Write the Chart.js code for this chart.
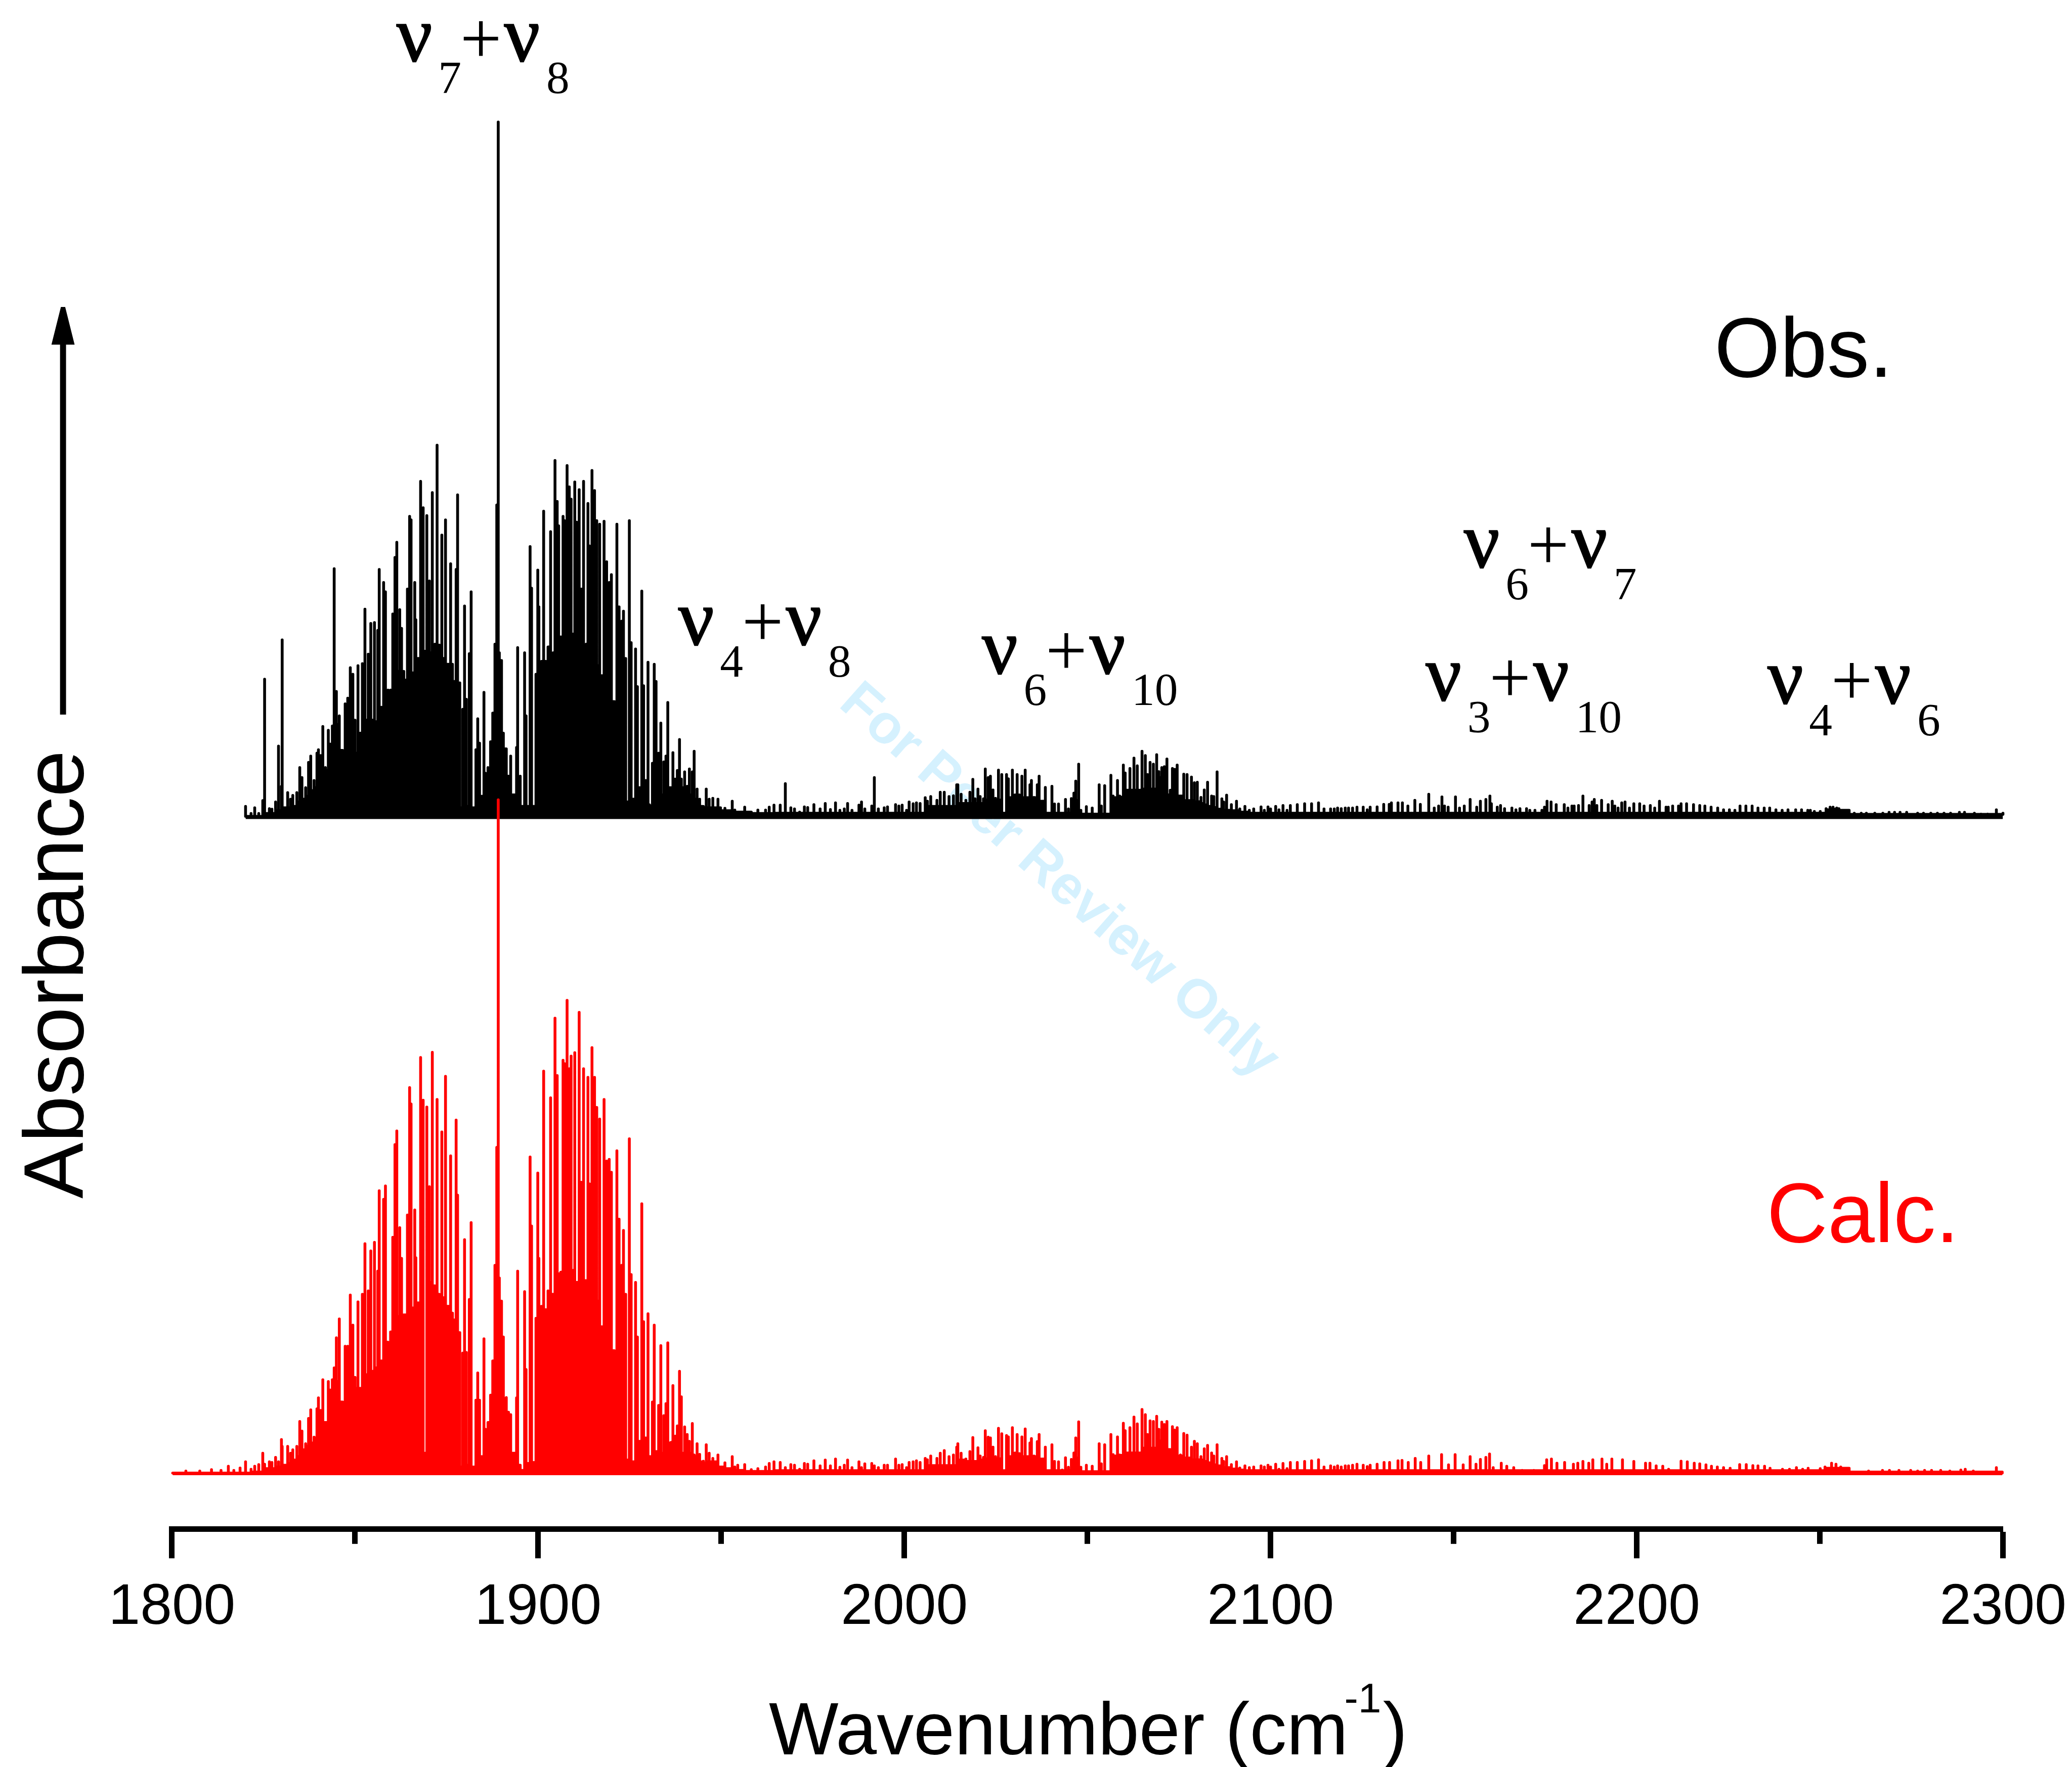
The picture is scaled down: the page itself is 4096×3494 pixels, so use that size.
<!DOCTYPE html>
<html>
<head>
<meta charset="utf-8">
<title>Absorbance spectrum</title>
<script src="https://cdn.jsdelivr.net/npm/chart.js@4"></script>
<style>
    html, body { margin: 0; padding: 0; background: #fff; }
    canvas { display: block; }
</style>
</head>
<body>
<canvas id="grafico" width="4096" height="3494"></canvas>
<script>
// red trace only, runs from the axis start up to where the black trace begins
const leadWn = [1800.2, 1803.8, 1807.6, 1810.8, 1813.4, 1815.4, 1816.9, 1818.6];
const leadCalc = [6, 12, 12, 16, 14, 26, 14, 21];
const leadCalcFloor = [6, 6, 6, 6, 6, 6, 6, 6];

// sticks shared by both traces, 1820 - 2127 cm-1
const wavenumbers = [
    1820.1,1821.6,1822.6,1823.7,1824.8,1825.3,1826.6,1827.3,1828.3,1829.1,
    1829.9,1830.1,1831.6,1832.4,1833.0,1834.1,1834.9,1835.5,1836.5,1837.3,
    1837.9,1838.8,1839.6,1840.0,1840.6,1841.2,1841.9,1842.7,1843.2,1843.8,
    1844.3,1844.9,1845.7,1846.6,1847.3,1848.0,1848.7,1849.4,1850.0,1850.8,
    1851.4,1852.0,1852.7,1853.6,1854.3,1855.3,1856.2,1856.6,1857.2,1857.8,
    1858.3,1859.0,1859.7,1860.3,1860.9,1861.4,1862.2,1862.7,1863.3,1864.3,
    1864.9,1865.3,1866.3,1866.6,1867.2,1867.9,1868.6,1869.6,1870.3,1871.1,
    1871.8,1872.4,1873.0,1873.7,1874.7,1875.4,1876.1,1876.6,1877.6,1878.0,
    1878.6,1879.4,1879.9,1880.4,1881.2,1881.7,1883.0,1883.5,1884.0,1885.2,
    1885.6,1886.3,1887.0,1887.6,1888.2,1888.7,1889.1,1889.4,1890.0,1890.5,
    1891.3,1891.9,1892.5,1893.6,1894.1,1894.4,1895.1,1896.3,1896.7,1897.2,
    1897.8,1898.2,1898.8,1899.4,1899.9,1900.2,1900.9,1901.5,1902.1,1902.7,
    1903.4,1904.1,1904.6,1905.2,1905.6,1906.2,1906.8,1907.2,1907.9,1908.5,
    1909.0,1909.6,1910.0,1910.5,1911.2,1911.8,1912.4,1913.1,1913.6,1914.0,
    1914.7,1915.4,1916.0,1916.5,1916.8,1917.4,1918.0,1918.7,1919.4,1920.0,
    1920.8,1921.5,1922.1,1922.8,1923.3,1923.9,1924.9,1925.4,1926.6,1927.1,
    1928.3,1928.8,1929.4,1930.0,1930.4,1931.2,1931.7,1932.2,1932.9,1933.5,
    1934.3,1934.9,1935.4,1936.3,1936.8,1937.4,1938.0,1938.6,1939.1,1940.0,
    1940.7,1941.3,1942.1,1942.6,1943.4,1944.1,1945.1,1945.9,1946.7,1947.7,
    1949.1,1949.8,1951.0,1953.0,1953.7,1954.5,1956.4,1958.2,1960.0,1962.1,
    1963.1,1964.4,1966.1,1967.5,1969.0,1970.0,1971.4,1972.7,1973.6,1975.3,
    1977.0,1978.4,1979.8,1981.2,1982.4,1983.6,1984.5,1985.7,1987.6,1988.3,
    1989.2,1991.1,1991.8,1992.9,1994.5,1995.4,1997.6,1998.5,1999.4,2000.6,
    2001.3,2002.4,2003.3,2004.3,2005.7,2006.3,2007.2,2008.9,2009.8,2010.9,
    2012.2,2013.4,2014.3,2014.6,2015.5,2016.8,2017.9,2018.7,2019.3,2020.1,
    2020.7,2021.6,2022.1,2022.9,2023.5,2024.2,2024.9,2025.7,2026.6,2027.1,
    2027.9,2028.4,2029.5,2030.2,2030.8,2031.4,2032.1,2033.0,2034.3,2034.7,
    2035.4,2036.3,2036.8,2037.9,2038.5,2039.5,2040.3,2041.0,2042.1,2043.1,
    2044.0,2044.8,2045.6,2046.3,2046.8,2047.6,2048.2,2049.7,2050.6,2051.3,
    2052.1,2053.2,2053.8,2054.7,2055.8,2056.4,2057.0,2058.2,2058.8,2059.8,
    2060.3,2061.6,2062.7,2063.6,2064.9,2065.8,2066.4,2067.1,2068.0,2068.9,
    2069.5,2070.3,2071.0,2071.7,2072.6,2073.2,2073.8,2074.5,2075.4,2076.3,
    2077.2,2078.4,2079.2,2080.0,2081.0,2081.9,2082.8,2083.9,2084.5,2085.4,
    2086.7,2087.2,2088.0,2089.3,2090.7,2091.6,2093.0,2094.2,2095.4,2097.4,
    2098.3,2099.3,2100.0,2101.4,2102.3,2103.4,2104.5,2105.4,2107.3,2109.3,
    2111.2,2113.1,2114.6,2116.4,2117.4,2118.3,2119.3,2120.4,2121.3,2122.4,
    2123.6,2125.3,2126.4,2127.2
];
const obsPeak = [
    40,15,35,15,60,483,32,30,55,250,
    110,620,88,65,78,88,175,140,105,193,
    215,130,225,237,217,318,175,305,257,320,
    868,440,355,225,397,417,523,500,340,530,
    295,537,727,570,677,680,653,865,385,820,
    787,445,445,710,907,960,725,660,510,797,
    1050,1038,820,690,555,1172,1080,1053,825,1133,
    605,1298,602,985,1038,535,885,535,865,1125,
    470,378,738,413,572,787,237,345,260,437,
    155,175,265,365,605,1090,2424,575,548,295,
    238,140,215,80,245,593,145,575,355,38,
    945,800,38,500,863,735,545,1068,40,595,
    997,575,1245,1102,1017,630,1050,1035,1227,1153,
    1110,640,1170,1030,1143,797,1172,605,1095,947,
    1210,1140,1035,525,1023,495,1033,892,820,847,
    405,1023,735,685,720,555,1035,610,588,457,
    790,460,130,542,45,190,535,475,225,330,
    195,215,402,105,227,135,165,273,135,160,
    110,170,160,232,100,65,40,100,65,68,
    65,35,33,58,27,20,37,20,27,27,
    37,44,44,119,35,31,20,38,36,46,
    31,50,29,52,26,31,50,26,44,55,
    31,41,140,31,35,38,46,41,44,26,
    55,49,52,50,70,58,74,61,89,89,
    74,77,115,115,82,61,89,134,66,100,
    74,66,170,140,145,97,68,166,151,16,
    151,136,166,80,151,80,145,166,115,130,
    71,115,145,58,106,16,110,48,48,16,
    64,31,67,86,128,187,26,39,13,34,
    13,115,41,112,13,148,76,130,76,184,
    156,172,208,181,232,217,151,193,187,220,
    161,175,178,205,96,172,169,184,76,152,
    151,142,122,124,71,97,124,76,74,160,
    66,55,79,46,58,31,40,26,31,38,
    26,38,31,40,28,43,26,43,46,49,
    49,52,31,31,31,34,32,34,34,34,
    37,37,28,37
];
const obsFloor = [
    5,5,5,5,5,15,15,15,25,25,
    35,35,35,40,40,55,65,65,75,95,
    95,105,115,120,155,160,165,205,255,305,
    305,325,235,220,225,225,225,225,225,225,
    295,335,340,340,340,335,330,375,375,395,
    415,425,430,505,505,510,510,505,480,485,
    505,505,555,555,555,580,580,580,575,575,
    575,575,555,555,535,535,475,475,465,465,
    35,40,40,40,40,35,35,40,75,125,
    125,165,265,365,555,605,575,545,295,240,
    145,85,80,75,75,40,40,355,40,40,
    800,40,40,465,735,40,545,545,40,595,
    540,540,575,625,630,630,635,165,640,640,
    640,585,585,585,605,605,600,605,520,520,
    525,530,530,495,470,470,470,470,405,405,
    155,155,150,105,75,55,55,65,65,105,
    55,55,40,40,40,85,85,85,80,80,
    85,105,105,75,95,105,110,105,105,80,
    80,80,75,65,55,40,35,35,35,35,
    35,25,25,20,20,20,20,15,15,15,
    15,16,16,16,16,16,16,16,16,16,
    16,16,16,16,16,16,16,16,16,16,
    16,16,16,16,16,16,16,16,16,16,
    16,16,16,16,40,40,40,40,40,40,
    40,40,50,50,50,50,50,50,50,50,
    50,50,62,62,62,62,62,62,16,16,
    70,70,70,70,70,70,70,70,70,70,
    70,70,58,58,16,16,16,16,16,16,
    16,16,16,50,60,16,13,13,13,13,
    13,13,13,13,13,70,70,72,72,96,
    96,96,96,96,100,100,100,100,100,140,
    140,140,80,80,80,76,76,76,76,60,
    60,60,56,56,50,45,40,36,36,30,
    26,26,26,25,25,20,20,16,16,16,
    16,16,16,16,16,16,16,16,16,16,
    16,16,16,16,16,16,16,16,16,16,
    16,16,16,16
];
const calcPeak = [
    39,17,26,31,64,32,39,37,52,39,
    104,84,84,64,74,84,157,129,92,166,
    191,111,194,226,189,279,154,274,249,279,
    314,402,457,204,377,377,527,439,286,507,
    254,529,677,539,656,681,597,832,334,807,
    846,389,419,696,967,1007,724,634,464,761,
    1134,1086,776,636,504,1222,1097,1077,844,1237,
    529,1099,524,1004,1167,494,934,474,1039,819,
    417,357,689,359,514,739,219,299,219,399,
    134,114,234,334,614,959,1976,577,509,274,
    227,184,177,64,226,597,29,537,309,34,
    931,729,37,459,884,634,494,1182,484,539,
    1104,524,1337,1169,584,594,1214,1204,1389,1189,
    1226,599,1236,564,1354,857,1189,569,1164,852,
    1251,1164,1076,509,1042,434,1099,919,924,886,
    364,949,749,614,716,529,984,587,564,404,
    794,449,109,472,44,214,439,64,204,379,
    174,209,387,96,262,114,144,304,229,141,
    119,99,151,59,92,61,41,89,64,49,
    59,24,36,54,24,29,31,16,19,24,
    34,39,37,22,31,29,17,34,32,42,
    27,44,27,47,23,29,44,22,39,22,
    33,34,27,22,29,29,47,29,31,22,
    37,39,42,37,49,45,56,49,64,72,
    54,59,82,92,64,47,69,110,40,80,
    56,52,130,111,109,82,54,137,121,13,
    116,112,139,65,119,63,112,135,94,107,
    56,98,119,47,82,13,89,40,39,15,
    51,23,46,65,109,156,23,29,10,26,
    10,92,33,89,10,119,60,112,59,152,
    130,139,170,150,192,177,119,159,157,172,
    134,155,148,157,67,142,132,139,59,122,
    117,82,99,92,54,77,87,65,56,89,
    49,40,54,31,39,21,27,22,24,27,
    24,29,24,32,17,34,19,37,37,40,
    42,45,24,27,24,27,24,27,27,29,
    32,29,25,29
];
const calcFloor = [
    6,9,9,9,19,19,19,19,24,24,
    29,29,34,39,44,54,64,74,84,94,
    94,109,114,124,144,154,154,194,244,274,
    274,274,214,199,209,214,214,224,254,254,
    254,284,294,294,304,314,314,324,324,384,
    389,384,419,464,464,464,464,464,469,484,
    489,489,509,504,504,524,64,564,564,554,
    529,529,524,519,494,494,454,454,414,414,
    24,24,24,29,24,24,24,24,54,94,
    114,154,234,334,574,614,509,509,404,224,
    184,129,64,64,44,29,14,309,29,34,
    729,29,34,444,634,29,484,484,24,534,
    529,524,564,584,589,594,594,144,599,599,
    599,564,564,564,564,564,569,569,494,494,
    494,509,509,439,434,434,434,434,434,364,
    144,139,134,54,54,44,44,39,39,99,
    34,34,29,29,54,69,69,69,64,64,
    74,114,94,74,104,114,64,94,64,94,
    64,64,59,54,44,39,34,39,39,39,
    24,24,19,14,14,14,11,11,11,11,
    11,13,13,13,13,13,13,13,13,13,
    13,13,13,13,13,13,13,13,13,13,
    13,13,13,13,13,13,13,13,13,13,
    13,13,13,13,28,28,28,28,28,28,
    28,28,44,44,44,40,40,40,40,44,
    44,44,48,48,48,48,48,48,13,13,
    54,54,54,54,54,54,54,54,54,54,
    54,54,47,47,13,13,13,13,13,13,
    13,13,13,40,50,13,10,10,10,10,
    10,10,10,10,10,56,56,58,58,65,
    65,65,65,65,79,79,79,79,79,100,
    100,100,75,75,67,60,56,56,56,50,
    50,45,45,45,44,40,36,30,30,27,
    22,22,22,18,18,15,13,13,13,13,
    13,13,13,13,13,13,13,13,13,13,
    13,13,13,13,13,13,13,13,13,13,
    13,13,13,13
];

// high wavenumber end, the two traces were read apart here
const obsTailWn = [
    2129.1,2130.9,2132.4,2133.0,2134.8,2136.0,2137.5,2139.4,2140.9,2143.2,
    2144.7,2145.9,2146.8,2147.5,2148.5,2150.5,2151.6,2152.9,2154.5,2156.3,
    2157.3,2158.8,2159.9,2160.3,2161.9,2162.8,2163.9,2165.9,2167.0,2168.1,
    2169.9,2170.8,2172.2,2174.1,2174.8,2175.5,2176.6,2178.0,2180.2,2181.2,
    2182.3,2182.9,2184.1,2185.3,2187.0,2187.8,2188.4,2189.1,2190.4,2192.2,
    2193.3,2194.0,2194.9,2195.9,2196.8,2198.0,2199.2,2200.8,2202.0,2203.7,
    2204.9,2206.2,2208.0,2208.6,2209.8,2211.4,2212.1,2213.6,2215.5,2217.2,
    2218.6,2220.3,2222.1,2223.7,2225.3,2226.8,2228.2,2229.8,2231.5,2233.1,
    2234.8,2236.3,2238.0,2239.7,2241.3,2243.4,2245.0,2246.7,2247.4,2248.5,
    2250.1,2251.7,2252.8,2253.6,2254.6,2255.2,2258.0,2259.4,2261.3,2262.7,
    2265.0,2267.2,2268.9,2270.4,2271.9,2273.7,2276.7,2278.3,2280.3,2282.1,
    2283.9,2285.7,2288.1,2289.5,2292.2,2294.0,2295.8,2298.2,2300.0
];
const obsTailPeak = [
    38,47,47,52,52,52,41,61,47,82,
    34,41,73,41,37,73,34,41,64,37,
    58,64,76,49,37,43,32,34,28,32,
    32,26,26,26,37,58,55,46,46,34,
    41,41,43,76,43,55,64,43,61,46,
    58,41,34,52,55,34,49,49,41,43,
    34,58,37,37,41,41,49,49,46,43,
    41,37,34,28,28,26,41,41,41,34,
    34,34,28,26,28,28,28,26,26,22,
    22,32,37,37,34,32,26,16,16,16,
    16,16,19,19,19,19,16,16,16,16,
    16,16,19,19,16,13,13,28,16
];
const obsTailFloor = [
    16,16,16,16,16,16,16,16,16,16,
    16,16,16,16,16,16,16,16,16,16,
    16,16,16,16,16,16,16,16,16,16,
    16,16,16,16,16,16,16,16,16,16,
    16,16,16,16,16,16,16,16,16,16,
    16,16,16,16,16,16,16,16,16,16,
    16,16,16,16,16,16,16,16,16,16,
    16,16,16,16,16,16,16,16,16,16,
    16,16,16,16,16,16,16,16,16,16,
    16,28,30,30,30,26,12,12,12,12,
    12,12,12,12,12,12,12,12,12,12,
    12,12,12,12,12,12,12,12,12
];
const calcTailWn = [
    2129.1,2131.0,2132.5,2134.8,2135.9,2137.6,2139.5,2141.0,2143.2,2146.7,
    2148.6,2150.4,2152.6,2154.5,2156.1,2157.3,2158.8,2159.8,2160.8,2163.0,
    2164.5,2166.4,2168.7,2171.9,2174.8,2175.4,2176.7,2178.2,2180.3,2182.7,
    2183.9,2185.3,2186.9,2188.0,2190.5,2191.8,2193.2,2196.1,2199.2,2202.4,
    2203.6,2205.3,2207.1,2208.7,2212.1,2213.8,2215.7,2217.2,2218.9,2220.4,
    2222.0,2223.7,2225.5,2228.1,2229.9,2231.7,2233.1,2234.9,2236.4,2239.8,
    2241.7,2243.6,2245.3,2246.8,2250.1,2251.4,2253.2,2254.4,2255.7,2258.0,
    2263.3,2267.1,2269.0,2271.6,2274.8,2276.7,2278.6,2280.5,2283.0,2285.5,
    2288.5,2289.7,2291.9,2294.4,2296.3,2298.2,2299.8
];
const calcTailPeak = [
    32,37,37,42,43,37,49,37,56,60,
    30,60,30,54,32,46,52,62,22,35,
    26,22,14,14,28,45,47,35,37,32,
    35,40,35,45,47,32,47,45,40,35,
    35,27,26,17,41,39,35,33,30,26,
    24,22,20,31,31,28,27,26,20,17,
    17,22,17,20,19,24,35,32,24,14,
    12,14,14,14,14,12,14,14,14,12,
    15,17,12,9,9,22,6
];
const calcTailFloor = [
    13,13,13,13,13,13,13,13,13,13,
    13,13,13,13,13,13,13,13,13,13,
    13,13,13,13,13,13,13,13,13,13,
    13,13,13,13,13,13,13,13,13,13,
    13,13,13,13,13,13,13,13,13,13,
    13,13,13,13,13,13,13,13,13,13,
    13,13,13,13,13,20,20,20,20,9,
    9,9,9,9,9,9,9,9,9,9,
    9,9,9,9,9,9,6
];

const majorTicks = [1800, 1900, 2000, 2100, 2200, 2300];
const minorTicks = [1850, 1950, 2050, 2150, 2250];
const bandNames = [['7', '8'], ['4', '8'], ['6', '10'], ['6', '7'], ['3', '10'], ['4', '6']];

// everything below was measured on the 4832 wide original
const S = 4096 / 4832;
const px = (v) => v * S;
// x and baseline of the first nu of each band name
const bandPlaces = [[925, 142], [1582, 1503], [2290, 1570], [3414, 1323], [3325, 1633], [4122, 1640]];

function getSticks(wn, peak, floor) {
    let points = [];
    wn.forEach((x, i) => {
        points.push({ x: x, y: i > 0 ? floor[i - 1] : floor[0] });
        points.push({ x: x, y: peak[i] });
        points.push({ x: x, y: floor[i] });
    });
    return points;
}

function drawBandName(ctx, names, x, y) {
    ctx.fillStyle = '#000';
    ctx.strokeStyle = '#000';
    ctx.lineWidth = px(3);
    ctx.textAlign = 'left';
    ctx.textBaseline = 'alphabetic';
    ctx.font = px(184) + 'px "Liberation Serif"';
    // the nu of the original is heavier than the regular cut, not as heavy as the bold one
    [x, x + 251].forEach((nuX) => {
        ctx.fillText('ν', px(nuX), px(y));
        ctx.strokeText('ν', px(nuX), px(y));
    });
    ctx.font = px(172) + 'px "Liberation Serif"';
    ctx.fillText('+', px(x + 148), px(y + 5));
    ctx.font = px(108) + 'px "Liberation Serif"';
    ctx.fillText(names[0], px(x + 97), px(y + 75));
    ctx.fillText(names[1], px(x + 349), px(y + 75));
}

const decorations = {
    id: 'decorations',
    beforeDatasetsDraw(chart) {
        const ctx = chart.ctx;
        ctx.save();
        ctx.translate(px(2469), px(2056));
        ctx.rotate(41.5 * Math.PI / 180);
        ctx.fillStyle = '#d5f1fe';
        ctx.font = 'bold ' + px(128) + 'px "Liberation Sans"';
        ctx.textAlign = 'center';
        ctx.textBaseline = 'middle';
        ctx.fillText('For Peer Review Only', 0, 0);
        ctx.restore();
    },
    afterDraw(chart) {
        const ctx = chart.ctx;
        ctx.save();

        bandNames.forEach((names, i) => {
            drawBandName(ctx, names, bandPlaces[i][0], bandPlaces[i][1]);
        });

        ctx.textAlign = 'left';
        ctx.textBaseline = 'alphabetic';
        ctx.font = px(197) + 'px "Liberation Sans"';
        ctx.fillStyle = '#000';
        ctx.fillText('Obs.', px(3998), px(879));
        ctx.fillStyle = '#f00';
        ctx.fillText('Calc.', px(4120), px(2897));

        ctx.fillStyle = '#000';
        ctx.font = px(172) + 'px "Liberation Sans"';
        ctx.fillText('Wavenumber (cm', px(1793), px(4092));
        ctx.fillText(')', px(3225), px(4092));
        ctx.font = px(97) + 'px "Liberation Sans"';
        ctx.fillText('-1', px(3135), px(3994));

        ctx.save();
        ctx.translate(px(193), px(2796));
        ctx.rotate(-Math.PI / 2);
        ctx.font = px(196) + 'px "Liberation Sans"';
        ctx.fillText('Absorbance', 0, 0);
        ctx.restore();

        // arrow next to the y title
        ctx.beginPath();
        ctx.moveTo(px(140), px(1667));
        ctx.lineTo(px(154), px(1667));
        ctx.lineTo(px(154), px(804));
        ctx.lineTo(px(174), px(804));
        ctx.lineTo(px(152), px(716));
        ctx.lineTo(px(142), px(716));
        ctx.lineTo(px(120), px(804));
        ctx.lineTo(px(140), px(804));
        ctx.closePath();
        ctx.fill();

        ctx.restore();
    }
};

const traceStyle = {
    borderWidth: px(6.6),
    borderJoinStyle: 'round',
    borderCapStyle: 'round',
    pointRadius: 0,
    tension: 0,
    clip: false
};

new Chart(document.getElementById('grafico'), {
    type: 'line',
    data: {
        datasets: [
            Object.assign({
                label: 'Calc.',
                yAxisID: 'yCalc',
                order: 1,
                borderColor: '#f00',
                backgroundColor: '#f00',
                fill: { value: 0 },
                data: getSticks(leadWn.concat(wavenumbers, calcTailWn),
                    leadCalc.concat(calcPeak, calcTailPeak),
                    leadCalcFloor.concat(calcFloor, calcTailFloor))
            }, traceStyle),
            Object.assign({
                label: 'Obs.',
                yAxisID: 'yObs',
                order: 2,
                borderColor: '#000',
                backgroundColor: '#000',
                fill: { value: -4 },
                data: getSticks(wavenumbers.concat(obsTailWn),
                    obsPeak.concat(obsTailPeak),
                    obsFloor.concat(obsTailFloor))
            }, traceStyle)
        ]
    },
    options: {
        responsive: false,
        animation: false,
        events: [],
        layout: { autoPadding: false, padding: { left: px(401), right: 4096 - px(4671), top: 0, bottom: 0 } },
        plugins: { legend: { display: false }, tooltip: { enabled: false } },
        scales: {
            x: {
                type: 'linear',
                position: 'bottom',
                min: 1800,
                max: 2300,
                afterFit(scale) {
                    scale.height = 3494 - px(3567);
                    // the end labels must not pull the axis in
                    scale.paddingLeft = 0;
                    scale.paddingRight = 0;
                },
                afterBuildTicks(scale) { scale.ticks = majorTicks.map((value) => ({ value })); },
                border: { display: true, color: '#000', width: px(13) },
                grid: { drawOnChartArea: false, color: '#000', tickColor: '#000', tickWidth: px(13), tickLength: px(68) },
                ticks: {
                    color: '#000',
                    font: { family: '"Liberation Sans"', size: px(133) },
                    padding: px(36),
                    maxRotation: 0,
                    autoSkip: false,
                    callback: (value) => String(value)
                }
            },
            xMinor: {
                type: 'linear',
                axis: 'x',
                position: { yCalc: -158 },
                min: 1800,
                max: 2300,
                afterBuildTicks(scale) { scale.ticks = minorTicks.map((value) => ({ value })); },
                border: { display: false },
                grid: { drawOnChartArea: false, color: '#000', tickColor: '#000', tickWidth: px(13), tickLength: px(34) },
                ticks: { display: false }
            },
            yObs: { type: 'linear', display: false, min: -2478, max: 2849 },
            yCalc: { type: 'linear', display: false, min: -158, max: 4316 }
        }
    },
    plugins: [decorations]
});
</script>
</body>
</html>
